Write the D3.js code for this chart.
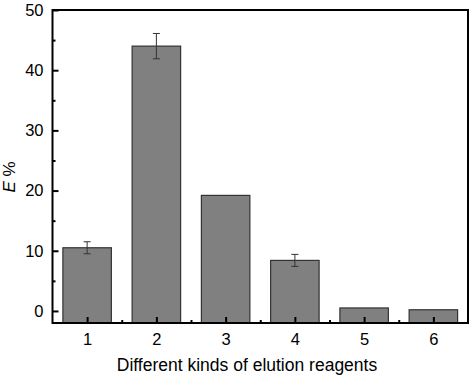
<!DOCTYPE html>
<html>
<head>
<meta charset="utf-8">
<script src="https://cdn.jsdelivr.net/npm/d3@7"></script>
<style>
  body { margin: 0; background: #fff; }
  text { font-family: "Liberation Sans", Arial, sans-serif; }
</style>
</head>
<body>
<div id="chart"></div>
<script>
const reagents = [1, 2, 3, 4, 5, 6];
const efficiency = [10.5, 44.0, 19.2, 8.4, 0.5, 0.2];
const errors = [1.0, 2.1, 0, 1.0, 0, 0];
const yTicks = [0, 10, 20, 30, 40, 50];

const width = 473;
const height = 379;
const margin = { top: 10, right: 5, bottom: 56, left: 52.5 };

const svg = d3.select("#chart")
  .append("svg")
  .attr("width", width)
  .attr("height", height);

const x = d3.scaleLinear()
  .domain([0.5, 6.5])
  .range([margin.left, width - margin.right]);

const y = d3.scaleLinear()
  .domain([-2, 50])
  .range([height - margin.bottom, margin.top]);

const barW = x(0.7) - x(0);

//Bars
svg.selectAll(".bar")
  .data(reagents)
  .enter()
  .append("rect")
  .attr("class", "bar")
  .attr("x", (d) => x(d) - barW / 2)
  .attr("y", (d, i) => y(efficiency[i]))
  .attr("width", barW)
  .attr("height", (d, i) => y(-2) - y(efficiency[i]))
  .attr("fill", "#808080")
  .attr("stroke", "#333")
  .attr("stroke-width", 1.2);

//Error bars
const errG = svg.append("g").attr("stroke", "#333").attr("stroke-width", 1);
reagents.forEach((d, i) => {
  if (!errors[i]) return;
  const cx = x(d);
  const top = y(efficiency[i] + errors[i]);
  const bot = y(efficiency[i] - errors[i]);
  errG.append("line").attr("x1", cx).attr("x2", cx).attr("y1", top).attr("y2", bot);
  errG.append("line").attr("x1", cx - 3.5).attr("x2", cx + 3.5).attr("y1", top).attr("y2", top);
  errG.append("line").attr("x1", cx - 3.5).attr("x2", cx + 3.5).attr("y1", bot).attr("y2", bot);
});

//Axes (ticks point inward)
const yAxis = d3.axisLeft(y).tickValues(yTicks).tickSize(-6).tickPadding(9);
const yMinor = d3.axisLeft(y).tickValues([5, 15, 25, 35, 45]).tickSize(-3).tickFormat("");
const xAxis = d3.axisBottom(x).tickValues(reagents).tickFormat(d3.format("d")).tickSize(-6).tickPadding(10);
const xMinor = d3.axisBottom(x).tickValues([1.5, 2.5, 3.5, 4.5, 5.5]).tickSize(-3).tickFormat("");

function styleAxis(g) {
  g.select(".domain").remove();
  g.selectAll(".tick line").attr("stroke", "#000").attr("stroke-width", 2);
  g.selectAll(".tick text").attr("font-size", 16.5).attr("fill", "#000");
}

svg.append("g").attr("transform", `translate(${margin.left},0)`).call(yAxis).call(styleAxis);
svg.append("g").attr("transform", `translate(${margin.left},0)`).call(yMinor).call(styleAxis);
svg.append("g").attr("transform", `translate(0,${height - margin.bottom})`).call(xAxis).call(styleAxis);
svg.append("g").attr("transform", `translate(0,${height - margin.bottom})`).call(xMinor).call(styleAxis);

//Frame
svg.append("rect")
  .attr("x", margin.left)
  .attr("y", margin.top)
  .attr("width", width - margin.left - margin.right)
  .attr("height", height - margin.top - margin.bottom)
  .attr("fill", "none")
  .attr("stroke", "#000")
  .attr("stroke-width", 2);

//Labels
svg.append("text")
  .attr("x", 247)
  .attr("y", 371)
  .attr("text-anchor", "middle")
  .attr("font-size", 17.5)
  .text("Different kinds of elution reagents");

const yl = svg.append("text")
  .attr("transform", "translate(15,177) rotate(-90)")
  .attr("text-anchor", "middle")
  .attr("font-size", 17);
yl.append("tspan").attr("font-style", "italic").text("E");
yl.append("tspan").text(" %");
</script>
</body>
</html>
